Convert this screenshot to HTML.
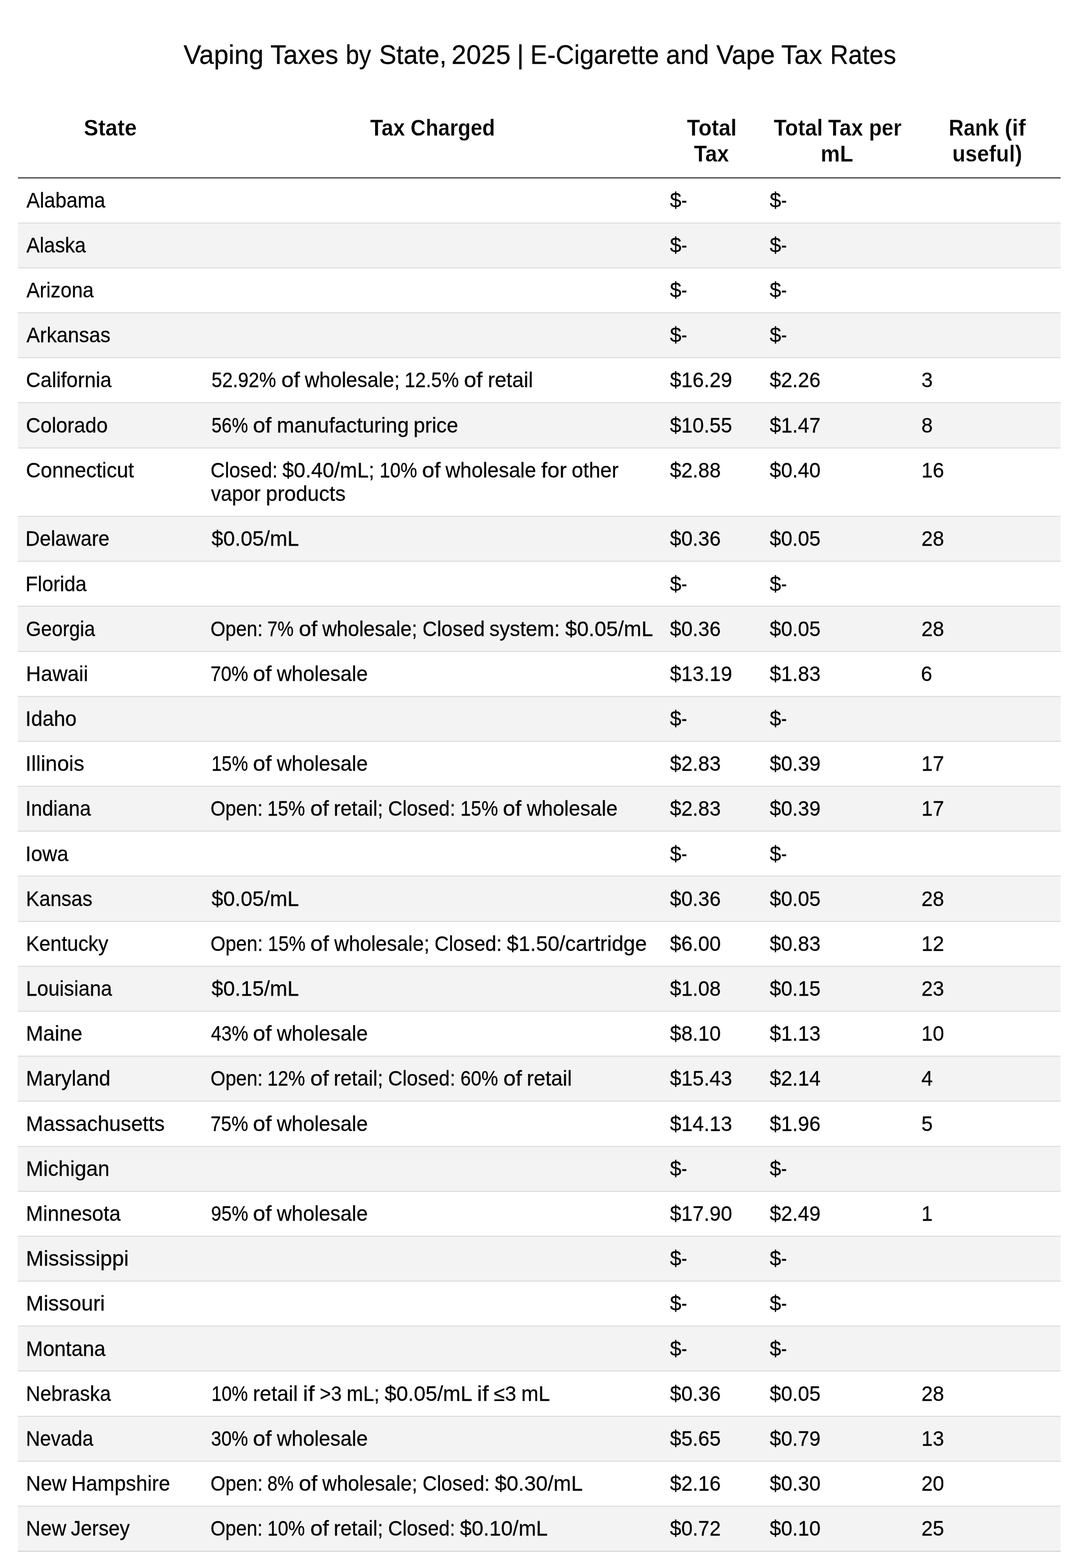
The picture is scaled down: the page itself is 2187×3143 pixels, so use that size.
<!DOCTYPE html>
<html lang="en">
<head>
<meta charset="utf-8">
<title>Vaping Taxes by State, 2025 | E-Cigarette and Vape Tax Rates</title>
<style>
html,body{margin:0;padding:0;background:#fff;}
body{width:2187px;height:3143px;position:relative;overflow:hidden;font-family:"Liberation Sans",sans-serif;color:#000;}
span{position:absolute;top:0;display:block;transform-origin:0 50%;white-space:nowrap;}
h1{-webkit-text-stroke:0.3px #000;position:absolute;left:0;top:80.4px;width:2187px;height:60px;margin:0;font-weight:400;font-size:53px;line-height:60px;white-space:nowrap;}
.tbl{position:absolute;left:35.6px;top:200px;width:2090.90px;}
.hd{-webkit-text-stroke:0.3px #fff;display:flex;box-sizing:border-box;height:155px;padding-top:30.25px;font-weight:700;font-size:46px;line-height:52.2px;}
.hl{height:1px;margin-bottom:-0.5px;background:#2d2d2d;border-top:1px solid #8c8c8c;border-bottom:1px solid #747474;}
.r{-webkit-text-stroke:0.3px #000;display:flex;box-sizing:border-box;height:90.18px;border-bottom:2px solid #dcdcdc;padding-top:20.3px;font-size:41.6px;line-height:47.4px;background:#fff;}
.g{background:#f3f3f3;}
.last{border-bottom-width:3px;height:91.18px;}
.two{height:137.58px;}
.c1,.c2,.c3,.c4,.c5{flex:none;box-sizing:border-box;position:relative;}
.c1{width:369.40px;} .c2{width:921.30px;} .c3{width:198.20px;} .c4{width:306.50px;} .c5{width:295.50px;}
</style>
</head>
<body>
<h1><span style="left:368.17px;transform:scaleX(0.9958)">Vaping</span> <span style="left:541.83px;transform:scaleX(0.9827)">Taxes</span> <span style="left:693.29px;transform:scaleX(0.9111)">by</span> <span style="left:759.55px;transform:scaleX(0.9770)">State,</span> <span style="left:905.32px;transform:scaleX(1.0052)">2025</span> <span style="left:1036.17px;transform:scaleX(1.0000)">|</span> <span style="left:1063.31px;transform:scaleX(0.9627)">E-Cigarette</span> <span style="left:1335.11px;transform:scaleX(0.9738)">and</span> <span style="left:1436.27px;transform:scaleX(0.9781)">Vape</span> <span style="left:1565.71px;transform:scaleX(0.9960)">Tax</span> <span style="left:1663.65px;transform:scaleX(0.9547)">Rates</span></h1>
<div class="tbl">
<div class="hd">
<div class="c1"><span style="left:131.95px;transform:scaleX(0.9426)">State</span></div>
<div class="c2"><span style="left:336.52px;transform:scaleX(0.9199)">Tax</span> <span style="left:417.89px;transform:scaleX(0.9071)">Charged</span></div>
<div class="c3"><span style="left:50.22px;transform:scaleX(0.9377)">Total</span> <span style="top:52.20px;left:64.82px;transform:scaleX(0.9266)">Tax</span></div>
<div class="c4"><span style="left:26.62px;transform:scaleX(0.9241)">Total</span> <span style="left:135.92px;transform:scaleX(0.9226)">Tax</span> <span style="left:217.74px;transform:scaleX(0.9106)">per</span> <span style="top:52.20px;left:120.93px;transform:scaleX(0.9465)">mL</span></div>
<div class="c5"><span style="left:70.65px;transform:scaleX(0.8926)">Rank</span> <span style="left:182.68px;transform:scaleX(0.9704)">(if</span> <span style="top:52.20px;left:77.85px;transform:scaleX(0.9283)">useful)</span></div>
</div>
<div class="hl"></div>
<div class="r"><div class="c1"><span style="left:17.42px;transform:scaleX(0.9629)">Alabama</span></div><div class="c2"></div><div class="c3"><span style="left:16.96px;transform:scaleX(0.9854)">$</span><span style="left:40.19px;transform:scaleX(0.8167)">-</span></div><div class="c4"><span style="left:18.46px;transform:scaleX(0.9854)">$</span><span style="left:41.79px;transform:scaleX(0.8167)">-</span></div><div class="c5"></div></div>
<div class="r g"><div class="c1"><span style="left:17.42px;transform:scaleX(0.9546)">Alaska</span></div><div class="c2"></div><div class="c3"><span style="left:16.96px;transform:scaleX(0.9854)">$</span><span style="left:40.19px;transform:scaleX(0.8167)">-</span></div><div class="c4"><span style="left:18.46px;transform:scaleX(0.9854)">$</span><span style="left:41.79px;transform:scaleX(0.8167)">-</span></div><div class="c5"></div></div>
<div class="r"><div class="c1"><span style="left:17.42px;transform:scaleX(0.9564)">Arizona</span></div><div class="c2"></div><div class="c3"><span style="left:16.96px;transform:scaleX(0.9854)">$</span><span style="left:40.19px;transform:scaleX(0.8167)">-</span></div><div class="c4"><span style="left:18.46px;transform:scaleX(0.9854)">$</span><span style="left:41.79px;transform:scaleX(0.8167)">-</span></div><div class="c5"></div></div>
<div class="r g"><div class="c1"><span style="left:17.42px;transform:scaleX(0.9714)">Arkansas</span></div><div class="c2"></div><div class="c3"><span style="left:16.96px;transform:scaleX(0.9854)">$</span><span style="left:40.19px;transform:scaleX(0.8167)">-</span></div><div class="c4"><span style="left:18.46px;transform:scaleX(0.9854)">$</span><span style="left:41.79px;transform:scaleX(0.8167)">-</span></div><div class="c5"></div></div>
<div class="r"><div class="c1"><span style="left:16.24px;transform:scaleX(0.9770)">California</span></div><div class="c2"><span style="left:18.87px;transform:scaleX(0.9186)">52.92%</span> <span style="left:158.52px;transform:scaleX(1.0737)">of</span> <span style="left:205.83px;transform:scaleX(0.9687)">wholesale;</span> <span style="left:406.29px;transform:scaleX(0.9231)">12.5%</span> <span style="left:525.21px;transform:scaleX(1.0737)">of</span> <span style="left:572.52px;transform:scaleX(1.0035)">retail</span></div><div class="c3"><span style="left:16.96px;transform:scaleX(0.9800)">$16.29</span></div><div class="c4"><span style="left:18.36px;transform:scaleX(0.9788)">$2.26</span></div><div class="c5"><span style="left:15.84px;transform:scaleX(0.9854)">3</span></div></div>
<div class="r g"><div class="c1"><span style="left:16.25px;transform:scaleX(0.9713)">Colorado</span></div><div class="c2"><span style="left:18.93px;transform:scaleX(0.8803)">56%</span> <span style="left:102.29px;transform:scaleX(1.0747)">of</span> <span style="left:149.64px;transform:scaleX(1.0039)">manufacturing</span> <span style="left:424.32px;transform:scaleX(0.9906)">price</span></div><div class="c3"><span style="left:16.96px;transform:scaleX(0.9800)">$10.55</span></div><div class="c4"><span style="left:18.36px;transform:scaleX(0.9788)">$1.47</span></div><div class="c5"><span style="left:15.62px;transform:scaleX(0.9854)">8</span></div></div>
<div class="r two"><div class="c1"><span style="left:16.22px;transform:scaleX(0.9851)">Connecticut</span></div><div class="c2"><span style="left:16.78px;transform:scaleX(0.9539)">Closed:</span> <span style="left:161.36px;transform:scaleX(0.9975)">$0.40/mL;</span> <span style="left:355.92px;transform:scaleX(0.9043)">10%</span> <span style="left:441.24px;transform:scaleX(1.0726)">of</span> <span style="left:488.51px;transform:scaleX(0.9819)">wholesale</span> <span style="left:680.20px;transform:scaleX(1.0496)">for</span> <span style="left:741.19px;transform:scaleX(0.9913)">other</span> <span style="top:47.40px;left:18.36px;transform:scaleX(0.9553)">vapor</span> <span style="top:47.40px;left:127.76px;transform:scaleX(1.0013)">products</span></div><div class="c3"><span style="left:16.96px;transform:scaleX(0.9788)">$2.88</span></div><div class="c4"><span style="left:18.36px;transform:scaleX(0.9788)">$0.40</span></div><div class="c5"><span style="left:15.98px;transform:scaleX(0.9854)">16</span></div></div>
<div class="r g"><div class="c1"><span style="left:15.83px;transform:scaleX(0.9581)">Delaware</span></div><div class="c2"><span style="left:18.95px;transform:scaleX(1.0110)">$0.05/mL</span></div><div class="c3"><span style="left:16.96px;transform:scaleX(0.9788)">$0.36</span></div><div class="c4"><span style="left:18.36px;transform:scaleX(0.9788)">$0.05</span></div><div class="c5"><span style="left:15.64px;transform:scaleX(0.9854)">28</span></div></div>
<div class="r"><div class="c1"><span style="left:15.81px;transform:scaleX(0.9650)">Florida</span></div><div class="c2"></div><div class="c3"><span style="left:16.96px;transform:scaleX(0.9854)">$</span><span style="left:40.19px;transform:scaleX(0.8167)">-</span></div><div class="c4"><span style="left:18.46px;transform:scaleX(0.9854)">$</span><span style="left:41.79px;transform:scaleX(0.8167)">-</span></div><div class="c5"></div></div>
<div class="r g"><div class="c1"><span style="left:16.64px;transform:scaleX(0.9370)">Georgia</span></div><div class="c2"><span style="left:16.68px;transform:scaleX(0.9228)">Open:</span> <span style="left:131.30px;transform:scaleX(0.8739)">7%</span> <span style="left:193.90px;transform:scaleX(1.0735)">of</span> <span style="left:241.21px;transform:scaleX(0.9686)">wholesale;</span> <span style="left:441.64px;transform:scaleX(0.9638)">Closed</span> <span style="left:576.48px;transform:scaleX(0.9860)">system:</span> <span style="left:727.83px;transform:scaleX(1.0158)">$0.05/mL</span></div><div class="c3"><span style="left:16.96px;transform:scaleX(0.9788)">$0.36</span></div><div class="c4"><span style="left:18.36px;transform:scaleX(0.9788)">$0.05</span></div><div class="c5"><span style="left:15.64px;transform:scaleX(0.9854)">28</span></div></div>
<div class="r"><div class="c1"><span style="left:15.99px;transform:scaleX(0.9999)">Hawaii</span></div><div class="c2"><span style="left:16.66px;transform:scaleX(0.9086)">70%</span> <span style="left:102.37px;transform:scaleX(1.0758)">of</span> <span style="left:149.78px;transform:scaleX(0.9852)">wholesale</span></div><div class="c3"><span style="left:16.96px;transform:scaleX(0.9800)">$13.19</span></div><div class="c4"><span style="left:18.36px;transform:scaleX(0.9788)">$1.83</span></div><div class="c5"><span style="left:15.32px;transform:scaleX(0.9854)">6</span></div></div>
<div class="r g"><div class="c1"><span style="left:15.62px;transform:scaleX(0.9857)">Idaho</span></div><div class="c2"></div><div class="c3"><span style="left:16.96px;transform:scaleX(0.9854)">$</span><span style="left:40.19px;transform:scaleX(0.8167)">-</span></div><div class="c4"><span style="left:18.46px;transform:scaleX(0.9854)">$</span><span style="left:41.79px;transform:scaleX(0.8167)">-</span></div><div class="c5"></div></div>
<div class="r"><div class="c1"><span style="left:15.48px;transform:scaleX(1.0213)">Illinois</span></div><div class="c2"><span style="left:19.01px;transform:scaleX(0.8804)">15%</span> <span style="left:102.37px;transform:scaleX(1.0758)">of</span> <span style="left:149.78px;transform:scaleX(0.9852)">wholesale</span></div><div class="c3"><span style="left:16.96px;transform:scaleX(0.9788)">$2.83</span></div><div class="c4"><span style="left:18.36px;transform:scaleX(0.9788)">$0.39</span></div><div class="c5"><span style="left:15.98px;transform:scaleX(0.9854)">17</span></div></div>
<div class="r g"><div class="c1"><span style="left:15.70px;transform:scaleX(0.9628)">Indiana</span></div><div class="c2"><span style="left:16.68px;transform:scaleX(0.9232)">Open:</span> <span style="left:131.35px;transform:scaleX(0.9054)">15%</span> <span style="left:216.78px;transform:scaleX(1.0740)">of</span> <span style="left:264.10px;transform:scaleX(0.9727)">retail;</span> <span style="left:373.10px;transform:scaleX(0.9550)">Closed:</span> <span style="left:517.83px;transform:scaleX(0.9054)">15%</span> <span style="left:603.26px;transform:scaleX(1.0740)">of</span> <span style="left:650.59px;transform:scaleX(0.9835)">wholesale</span></div><div class="c3"><span style="left:16.96px;transform:scaleX(0.9788)">$2.83</span></div><div class="c4"><span style="left:18.36px;transform:scaleX(0.9788)">$0.39</span></div><div class="c5"><span style="left:15.98px;transform:scaleX(0.9854)">17</span></div></div>
<div class="r"><div class="c1"><span style="left:15.63px;transform:scaleX(0.9807)">Iowa</span></div><div class="c2"></div><div class="c3"><span style="left:16.96px;transform:scaleX(0.9854)">$</span><span style="left:40.19px;transform:scaleX(0.8167)">-</span></div><div class="c4"><span style="left:18.46px;transform:scaleX(0.9854)">$</span><span style="left:41.79px;transform:scaleX(0.8167)">-</span></div><div class="c5"></div></div>
<div class="r g"><div class="c1"><span style="left:16.12px;transform:scaleX(0.9610)">Kansas</span></div><div class="c2"><span style="left:18.95px;transform:scaleX(1.0110)">$0.05/mL</span></div><div class="c3"><span style="left:16.96px;transform:scaleX(0.9788)">$0.36</span></div><div class="c4"><span style="left:18.36px;transform:scaleX(0.9788)">$0.05</span></div><div class="c5"><span style="left:15.64px;transform:scaleX(0.9854)">28</span></div></div>
<div class="r"><div class="c1"><span style="left:16.11px;transform:scaleX(0.9654)">Kentucky</span></div><div class="c2"><span style="left:16.68px;transform:scaleX(0.9254)">Open:</span> <span style="left:131.61px;transform:scaleX(0.9075)">15%</span> <span style="left:217.24px;transform:scaleX(1.0764)">of</span> <span style="left:264.67px;transform:scaleX(0.9712)">wholesale;</span> <span style="left:465.65px;transform:scaleX(0.9572)">Closed:</span> <span style="left:610.72px;transform:scaleX(1.0115)">$1.50/cartridge</span></div><div class="c3"><span style="left:16.96px;transform:scaleX(0.9788)">$6.00</span></div><div class="c4"><span style="left:18.36px;transform:scaleX(0.9788)">$0.83</span></div><div class="c5"><span style="left:15.98px;transform:scaleX(0.9854)">12</span></div></div>
<div class="r g"><div class="c1"><span style="left:16.09px;transform:scaleX(0.9704)">Louisiana</span></div><div class="c2"><span style="left:18.95px;transform:scaleX(1.0110)">$0.15/mL</span></div><div class="c3"><span style="left:16.96px;transform:scaleX(0.9788)">$1.08</span></div><div class="c4"><span style="left:18.36px;transform:scaleX(0.9788)">$0.15</span></div><div class="c5"><span style="left:15.64px;transform:scaleX(0.9854)">23</span></div></div>
<div class="r"><div class="c1"><span style="left:15.99px;transform:scaleX(0.9987)">Maine</span></div><div class="c2"><span style="left:17.54px;transform:scaleX(0.8980)">43%</span> <span style="left:102.37px;transform:scaleX(1.0758)">of</span> <span style="left:149.78px;transform:scaleX(0.9852)">wholesale</span></div><div class="c3"><span style="left:16.96px;transform:scaleX(0.9788)">$8.10</span></div><div class="c4"><span style="left:18.36px;transform:scaleX(0.9788)">$1.13</span></div><div class="c5"><span style="left:15.98px;transform:scaleX(0.9854)">10</span></div></div>
<div class="r g"><div class="c1"><span style="left:16.02px;transform:scaleX(0.9910)">Maryland</span></div><div class="c2"><span style="left:16.68px;transform:scaleX(0.9239)">Open:</span> <span style="left:131.43px;transform:scaleX(0.9060)">12%</span> <span style="left:216.92px;transform:scaleX(1.0747)">of</span> <span style="left:264.28px;transform:scaleX(0.9733)">retail;</span> <span style="left:373.35px;transform:scaleX(0.9556)">Closed:</span> <span style="left:518.18px;transform:scaleX(0.9060)">60%</span> <span style="left:603.67px;transform:scaleX(1.0747)">of</span> <span style="left:651.03px;transform:scaleX(1.0045)">retail</span></div><div class="c3"><span style="left:16.96px;transform:scaleX(0.9800)">$15.43</span></div><div class="c4"><span style="left:18.36px;transform:scaleX(0.9788)">$2.14</span></div><div class="c5"><span style="left:16.46px;transform:scaleX(0.9854)">4</span></div></div>
<div class="r"><div class="c1"><span style="left:15.98px;transform:scaleX(1.0025)">Massachusetts</span></div><div class="c2"><span style="left:16.66px;transform:scaleX(0.9086)">75%</span> <span style="left:102.37px;transform:scaleX(1.0758)">of</span> <span style="left:149.78px;transform:scaleX(0.9852)">wholesale</span></div><div class="c3"><span style="left:16.96px;transform:scaleX(0.9800)">$14.13</span></div><div class="c4"><span style="left:18.36px;transform:scaleX(0.9788)">$1.96</span></div><div class="c5"><span style="left:15.76px;transform:scaleX(0.9854)">5</span></div></div>
<div class="r g"><div class="c1"><span style="left:15.97px;transform:scaleX(1.0065)">Michigan</span></div><div class="c2"></div><div class="c3"><span style="left:16.96px;transform:scaleX(0.9854)">$</span><span style="left:40.19px;transform:scaleX(0.8167)">-</span></div><div class="c4"><span style="left:18.46px;transform:scaleX(0.9854)">$</span><span style="left:41.79px;transform:scaleX(0.8167)">-</span></div><div class="c5"></div></div>
<div class="r"><div class="c1"><span style="left:16.03px;transform:scaleX(0.9889)">Minnesota</span></div><div class="c2"><span style="left:17.65px;transform:scaleX(0.8967)">95%</span> <span style="left:102.37px;transform:scaleX(1.0758)">of</span> <span style="left:149.78px;transform:scaleX(0.9852)">wholesale</span></div><div class="c3"><span style="left:16.96px;transform:scaleX(0.9800)">$17.90</span></div><div class="c4"><span style="left:18.36px;transform:scaleX(0.9788)">$2.49</span></div><div class="c5"><span style="left:15.98px;transform:scaleX(0.9854)">1</span></div></div>
<div class="r g"><div class="c1"><span style="left:15.91px;transform:scaleX(1.0238)">Mississippi</span></div><div class="c2"></div><div class="c3"><span style="left:16.96px;transform:scaleX(0.9854)">$</span><span style="left:40.19px;transform:scaleX(0.8167)">-</span></div><div class="c4"><span style="left:18.46px;transform:scaleX(0.9854)">$</span><span style="left:41.79px;transform:scaleX(0.8167)">-</span></div><div class="c5"></div></div>
<div class="r"><div class="c1"><span style="left:15.91px;transform:scaleX(1.0220)">Missouri</span></div><div class="c2"></div><div class="c3"><span style="left:16.96px;transform:scaleX(0.9854)">$</span><span style="left:40.19px;transform:scaleX(0.8167)">-</span></div><div class="c4"><span style="left:18.46px;transform:scaleX(0.9854)">$</span><span style="left:41.79px;transform:scaleX(0.8167)">-</span></div><div class="c5"></div></div>
<div class="r g"><div class="c1"><span style="left:16.03px;transform:scaleX(0.9864)">Montana</span></div><div class="c2"></div><div class="c3"><span style="left:16.96px;transform:scaleX(0.9854)">$</span><span style="left:40.19px;transform:scaleX(0.8167)">-</span></div><div class="c4"><span style="left:18.46px;transform:scaleX(0.9854)">$</span><span style="left:41.79px;transform:scaleX(0.8167)">-</span></div><div class="c5"></div></div>
<div class="r"><div class="c1"><span style="left:16.14px;transform:scaleX(0.9565)">Nebraska</span></div><div class="c2"><span style="left:19.02px;transform:scaleX(0.8759)">10%</span> <span style="left:101.97px;transform:scaleX(0.9991)">retail</span> <span style="left:202.07px;transform:scaleX(1.1486)">if</span> <span style="left:235.98px;transform:scaleX(0.9254)">&gt;3</span> <span style="left:289.90px;transform:scaleX(0.9496)">mL;</span> <span style="left:365.78px;transform:scaleX(1.0126)">$0.05/mL</span> <span style="left:551.42px;transform:scaleX(1.1486)">if</span> <span style="left:585.33px;transform:scaleX(0.9782)">≤3</span> <span style="left:640.33px;transform:scaleX(0.9925)">mL</span></div><div class="c3"><span style="left:16.96px;transform:scaleX(0.9788)">$0.36</span></div><div class="c4"><span style="left:18.36px;transform:scaleX(0.9788)">$0.05</span></div><div class="c5"><span style="left:15.64px;transform:scaleX(0.9854)">28</span></div></div>
<div class="r g"><div class="c1"><span style="left:16.19px;transform:scaleX(0.9410)">Nevada</span></div><div class="c2"><span style="left:17.99px;transform:scaleX(0.8927)">30%</span> <span style="left:102.37px;transform:scaleX(1.0758)">of</span> <span style="left:149.78px;transform:scaleX(0.9852)">wholesale</span></div><div class="c3"><span style="left:16.96px;transform:scaleX(0.9788)">$5.65</span></div><div class="c4"><span style="left:18.36px;transform:scaleX(0.9788)">$0.79</span></div><div class="c5"><span style="left:15.98px;transform:scaleX(0.9854)">13</span></div></div>
<div class="r"><div class="c1"><span style="left:16.05px;transform:scaleX(0.9828)">New</span> <span style="left:107.89px;transform:scaleX(0.9847)">Hampshire</span></div><div class="c2"><span style="left:16.68px;transform:scaleX(0.9240)">Open:</span> <span style="left:131.44px;transform:scaleX(0.8749)">8%</span> <span style="left:194.11px;transform:scaleX(1.0749)">of</span> <span style="left:241.48px;transform:scaleX(0.9698)">wholesale;</span> <span style="left:442.16px;transform:scaleX(0.9558)">Closed:</span> <span style="left:587.01px;transform:scaleX(1.0170)">$0.30/mL</span></div><div class="c3"><span style="left:16.96px;transform:scaleX(0.9788)">$2.16</span></div><div class="c4"><span style="left:18.36px;transform:scaleX(0.9788)">$0.30</span></div><div class="c5"><span style="left:15.64px;transform:scaleX(0.9854)">20</span></div></div>
<div class="r g last"><div class="c1"><span style="left:16.09px;transform:scaleX(0.9711)">New</span> <span style="left:106.84px;transform:scaleX(0.9634)">Jersey</span></div><div class="c2"><span style="left:16.68px;transform:scaleX(0.9225)">Open:</span> <span style="left:131.27px;transform:scaleX(0.9047)">10%</span> <span style="left:216.64px;transform:scaleX(1.0732)">of</span> <span style="left:263.93px;transform:scaleX(0.9720)">retail;</span> <span style="left:372.85px;transform:scaleX(0.9543)">Closed:</span> <span style="left:517.48px;transform:scaleX(1.0155)">$0.10/mL</span></div><div class="c3"><span style="left:16.96px;transform:scaleX(0.9788)">$0.72</span></div><div class="c4"><span style="left:18.36px;transform:scaleX(0.9788)">$0.10</span></div><div class="c5"><span style="left:15.64px;transform:scaleX(0.9854)">25</span></div></div>
</div>
</body>
</html>
